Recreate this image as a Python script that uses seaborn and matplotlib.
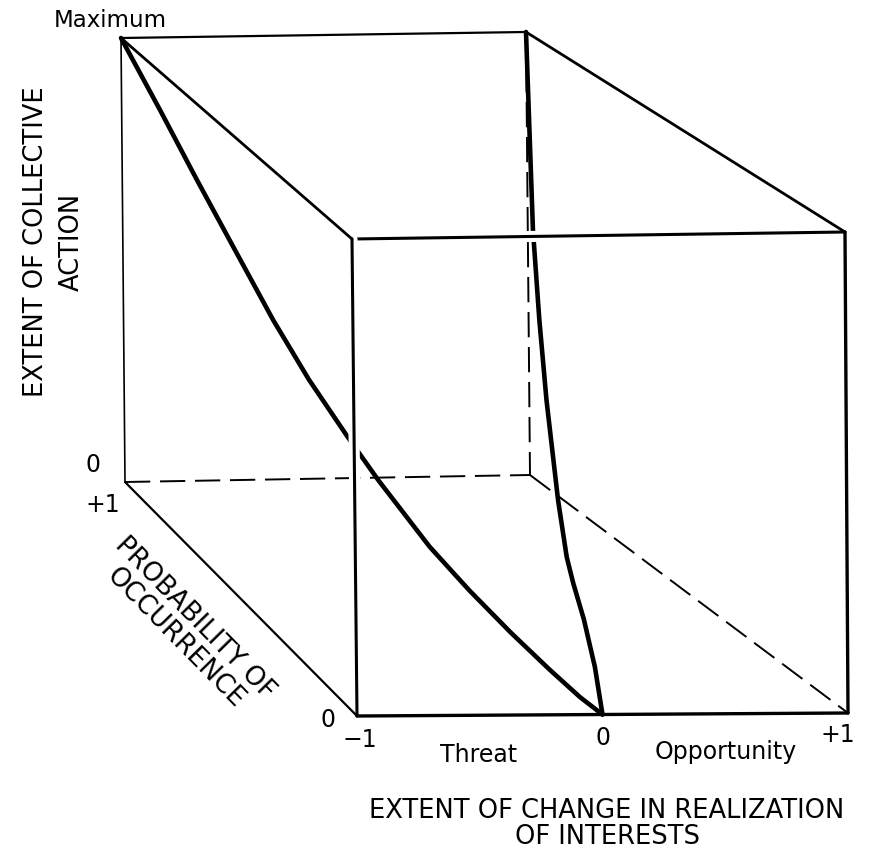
import matplotlib
matplotlib.use("Agg")
import matplotlib.pyplot as plt
import matplotlib.patheffects as pe
import seaborn as sns
import pandas as pd
import numpy as np

#%% Data (model units: change -1..+1, probability 0..1, action 0..1 = Maximum)
# threat curve: from (-1, p=1, Maximum) down to (0, p=0, 0)
threat_change = [-1.0, -0.912, -0.83, -0.747, -0.665, -0.589, -0.508, -0.445,
                 -0.34, -0.261, -0.178, -0.102, -0.043, 0.0]
threat_prob = [1.0, 0.912, 0.83, 0.747, 0.665, 0.589, 0.508, 0.445,
               0.34, 0.261, 0.178, 0.102, 0.043, 0.0]
threat_action = [1.0, 0.878, 0.759, 0.642, 0.526, 0.431, 0.345, 0.282,
                 0.189, 0.135, 0.085, 0.044, 0.015, 0.0]

# opportunity curve: from (+1, p=1, Maximum) down to (0, p=0, 0)
opp_change = [1.0, 0.954, 0.902, 0.839, 0.726, 0.631, 0.55, 0.4, 0.2, 0.0]
opp_prob = [1.0, 0.954, 0.902, 0.839, 0.726, 0.631, 0.55, 0.4, 0.2, 0.0]
opp_action = [1.0, 0.576, 0.40, 0.253, 0.09, 0.015, 0.0, 0.0, 0.0, 0.0]

change_ticks = ["\u22121", "0", "+1"]

#%% Drawing frame (pixel layout of the back face p=1 and front face p=0)
BACK = {"tl": (121, 38), "tr": (526, 32), "bl": (125, 482), "br": (530, 475)}
FRONT = {"tl": (352, 239), "tr": (845, 232), "bl": (357, 716), "br": (848, 713)}


def face_point(face, u, w):
    tl, tr, bl, br = (np.array(face[k], float) for k in ("tl", "tr", "bl", "br"))
    top = tl + u * (tr - tl)
    bot = bl + u * (br - bl)
    return top + w * (bot - top)


def proj(change, prob, action):
    pts = []
    for c, p, a in zip(change, prob, action):
        u = (c + 1) / 2
        w = 1 - a
        pts.append(p * face_point(BACK, u, w) + (1 - p) * face_point(FRONT, u, w))
    pts = np.array(pts)
    return pts[:, 0], pts[:, 1]


def edge(ax, a, b, **kw):
    x, y = proj([a[0], b[0]], [a[1], b[1]], [a[2], b[2]])
    return ax.plot(x, y, color="black", solid_capstyle="round", **kw)


sns.set_theme(style="white")
plt.rcParams["font.family"] = ["DejaVu Sans"]
plt.rcParams["text.color"] = "black"

fig = plt.figure(figsize=(8.79, 8.5), dpi=100)
ax = fig.add_axes([0, 0, 1, 1])

# back face
dash = (0, (13, 5))
edge(ax, (-1, 1, 1), (1, 1, 1), lw=1.6, zorder=1)
edge(ax, (-1, 1, 1), (-1, 1, 0), lw=1.2, zorder=1)
edge(ax, (-1, 1, 0), (1, 1, 0), lw=1.4, ls=dash, zorder=1)
edge(ax, (1, 1, 1), (1, 1, 0), lw=1.4, ls=dash, zorder=1)

# curves
tx, ty = proj(threat_change, threat_prob, threat_action)
ox, oy = proj(opp_change, opp_prob, opp_action)
curves = pd.concat([
    pd.DataFrame({"x": tx, "y": ty, "curve": "Threat"}),
    pd.DataFrame({"x": ox, "y": oy, "curve": "Opportunity"}),
])
sns.lineplot(data=curves, x="x", y="y", units="curve", estimator=None, sort=False,
             color="black", lw=3.3, ax=ax, zorder=2)
for ln in ax.lines:
    ln.set_solid_joinstyle("round")

# front face: top and left edges hide what is behind them
halo = [pe.withStroke(linewidth=8, foreground="white")]
edge(ax, (-1, 0, 1), (1, 0, 1), lw=2.2, zorder=3, path_effects=halo)
edge(ax, (-1, 0, 1), (-1, 0, 0), lw=2.2, zorder=3, path_effects=halo)
edge(ax, (-1, 0, 0), (1, 0, 0), lw=2.4, zorder=4)
edge(ax, (1, 0, 1), (1, 0, 0), lw=2.4, zorder=4)

# depth edges
edge(ax, (-1, 1, 1), (-1, 0, 1), lw=2.0, zorder=4)
edge(ax, (1, 1, 1), (1, 0, 1), lw=2.0, zorder=4)
edge(ax, (-1, 1, 0), (-1, 0, 0), lw=1.6, zorder=4)
edge(ax, (1, 1, 0), (1, 0, 0), lw=1.4, ls=dash, zorder=4)

ax.set_xlim(0, 879)
ax.set_ylim(850, 0)
ax.axis("off")

#%% Labels
fs = 17
ax.text(110, 20, "Maximum", fontsize=16.5, ha="center", va="center")
ax.text(54, 242, "EXTENT OF COLLECTIVE\nACTION", fontsize=18.5, rotation=90,
        ha="center", va="center", multialignment="center", linespacing=1.5)
ax.text(93, 465, "0", fontsize=fs, ha="center", va="center")
ax.text(103, 505, "+1", fontsize=fs, ha="center", va="center")
ax.text(185, 628, "PROBABILITY OF\nOCCURRENCE", fontsize=19, rotation=-45.5,
        rotation_mode="anchor", ha="center", va="center", multialignment="center",
        linespacing=1.1)
ax.text(328, 720, "0", fontsize=fs, ha="center", va="center")

for lab, (x, y) in zip(change_ticks, [(360, 740), (603, 738), (838, 735)]):
    ax.text(x, y, lab, fontsize=fs, ha="center", va="center")
ax.text(479, 755, "Threat", fontsize=fs, ha="center", va="center")
ax.text(726, 752, "Opportunity", fontsize=fs, ha="center", va="center")
ax.text(607, 824, "EXTENT OF CHANGE IN REALIZATION\nOF INTERESTS", fontsize=18.5,
        ha="center", va="center", multialignment="center", linespacing=0.95)

fig.savefig("out.png", dpi=100, facecolor="white")
